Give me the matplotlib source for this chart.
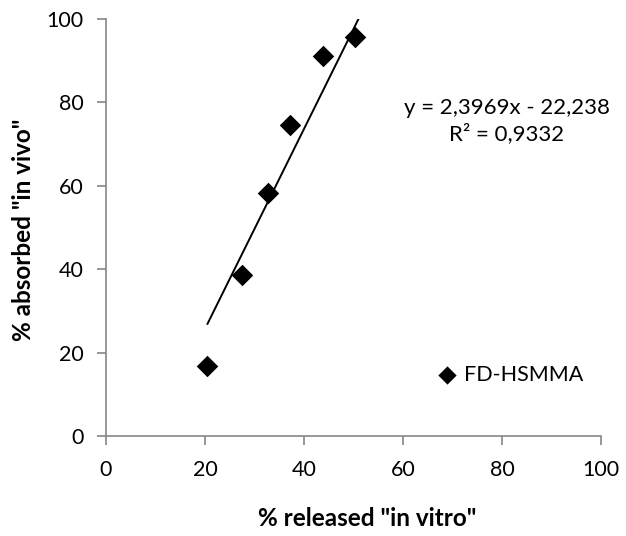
import matplotlib
matplotlib.use("Agg")
import matplotlib.pyplot as plt
import numpy as np

plt.rcParams['font.family'] = ['Lato', 'DejaVu Sans']

# Data
released_in_vitro = [20.5, 27.4, 32.8, 37.2, 43.8, 50.4]
absorbed_in_vivo = [16.7, 38.7, 58.3, 74.7, 91.2, 95.8]
slope = 2.3969
intercept = -22.238
r2 = 0.9332
series_name = "FD-HSMMA"
x_ticks = [0, 20, 40, 60, 80, 100]
y_ticks = [0, 20, 40, 60, 80, 100]

W, H = 626, 536
fig = plt.figure(figsize=(W/100, H/100), dpi=100)
ax = fig.add_axes([106/W, 1-436/H, 495/W, 417/H])

ax.scatter(released_in_vitro, absorbed_in_vivo, marker='D', s=120, color='black',
           zorder=3, label=series_name, linewidths=0)

x_end = (100 - intercept) / slope + 0.3
xl = np.array([min(released_in_vitro), x_end])
ax.plot(xl, slope*xl + intercept, color='black', lw=1.4, zorder=2)

ax.set_xlim(0, 100)
ax.set_ylim(0, 100)
ax.set_xticks(x_ticks)
ax.set_yticks(y_ticks)

for s in ['top', 'right']:
    ax.spines[s].set_visible(False)
for s in ['left', 'bottom']:
    ax.spines[s].set_color('#868686')
    ax.spines[s].set_linewidth(1.2)
ax.tick_params(axis='both', direction='out', length=6.5, width=1.2, color='#868686',
               labelsize=15.5, labelcolor='black')
ax.tick_params(axis='x', pad=11)
ax.tick_params(axis='y', pad=9.5)

ax.set_xlabel('% released "in vitro"', fontsize=17.5, fontweight='bold')
ax.set_ylabel('% absorbed "in vivo"', fontsize=17.5, fontweight='bold')
ax.xaxis.set_label_coords((367-106)/495, (436-518)/417)
ax.xaxis.label.set_va('center')
ax.yaxis.set_label_coords((24-106)/495, (436-230)/417)
ax.yaxis.label.set_va('center')

eq_text = (f'y = {slope:.4f}x - {abs(intercept):.3f}'.replace('.', ',') + '\n' +
           f'R² = {r2:.4f}'.replace('.', ','))
ax.text(507, H-121, eq_text, transform=None,
        ha='center', va='center', fontsize=16, linespacing=1.35)

leg = ax.legend(loc='center left', bbox_to_anchor=((436-106)/495, (436-375)/417),
                frameon=False, fontsize=15.5, handlelength=1.0, handletextpad=0.3,
                markerscale=0.85, borderaxespad=0, borderpad=0)

fig.savefig('out.png', dpi=100)
